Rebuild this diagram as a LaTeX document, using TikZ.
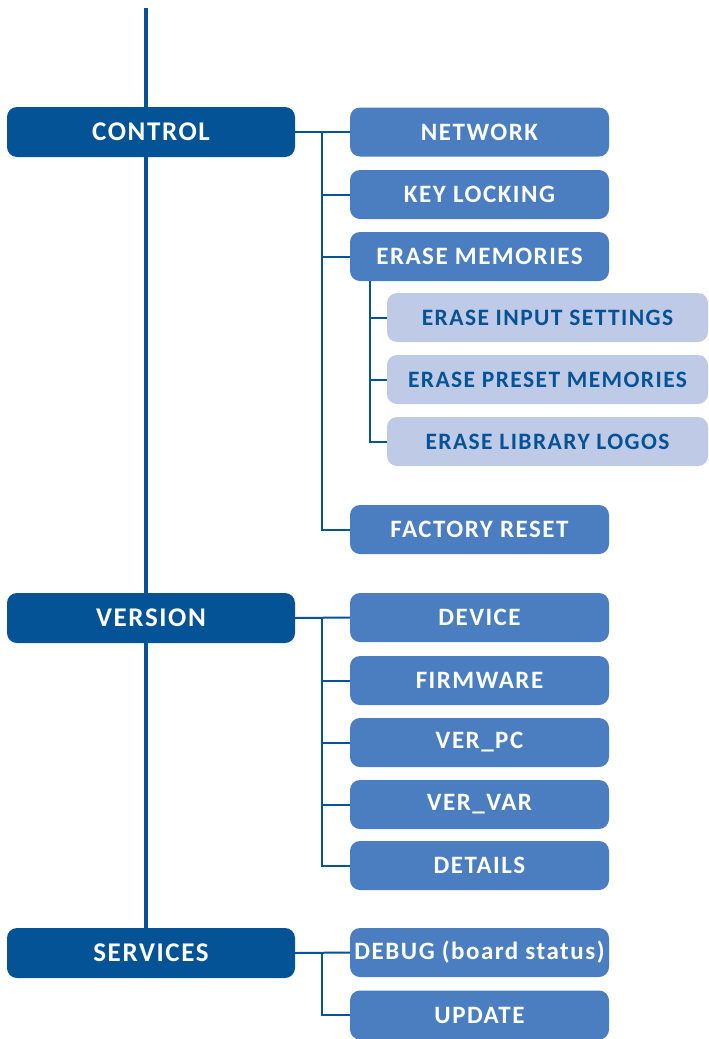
\documentclass[tikz,border=0pt]{standalone}
\usepackage{fontspec}
\setmainfont{Carlito}[LetterSpace=6]
\usepackage{tikz}

\definecolor{darkblue}{RGB}{4,83,151}
\definecolor{midblue}{RGB}{74,126,192}
\definecolor{paleblue}{RGB}{191,202,230}

\tikzset{
  menu/.style={rounded corners=10pt, fill=darkblue, text=white,
    minimum width=288pt, minimum height=50pt, inner sep=0pt,
    font=\fontsize{27}{30}\selectfont\bfseries},
  item/.style={rounded corners=10pt, fill=midblue, text=white,
    minimum width=259pt, minimum height=49pt, inner sep=0pt,
    font=\fontsize{25}{28}\selectfont\bfseries},
  subitem/.style={rounded corners=10pt, fill=paleblue, text=darkblue,
    minimum width=321pt, minimum height=49pt, inner sep=0pt,
    font=\fontsize{23.5}{26}\selectfont\bfseries},
  link/.style={draw=darkblue, line width=2pt}
}

\begin{document}
\begin{tikzpicture}[x=1pt,y=-1pt]
    \useasboundingbox (0,0) rectangle (709,1039);
    % Hauptlinie
    \coordinate (top) at (146,8);
    \node[menu] (services) at (151,953) {SERVICES};
    \draw[darkblue, line width=4pt] (top) -- (top |- services.north);
    % CONTROL
    \node[menu] (control) at (151,132) {CONTROL};
    \node[item] (network) at (479.5,132) {NETWORK};
    \node[item] (keylock) at (479.5,194.5) {KEY LOCKING};
    \node[item] (erase) at (479.5,256.5) {ERASE MEMORIES};
    \node[subitem] (einput) at (547.5,317.5) {ERASE INPUT SETTINGS};
    \node[subitem] (epreset) at (547.5,379.5) {ERASE PRESET MEMORIES};
    \node[subitem] (elogos) at (547.5,441.5) {ERASE LIBRARY LOGOS};
    \node[item] (reset) at (479.5,529.5) {FACTORY RESET};
    \coordinate (cbus) at (322,132);
    \draw[link] (control.east) -- (network.west);
    \draw[link] (cbus) |- (keylock.west);
    \draw[link] (cbus) |- (erase.west);
    \draw[link] (cbus) |- (reset.west);
    \coordinate (ebus) at (370,281);
    \draw[link] (ebus) |- (einput.west);
    \draw[link] (ebus) |- (epreset.west);
    \draw[link] (ebus) |- (elogos.west);
    % VERSION
    \node[menu] (version) at (151,618) {VERSION};
    \node[item] (device) at (479.5,617.5) {DEVICE};
    \node[item] (firmware) at (479.5,680.5) {FIRMWARE};
    \node[item] (verpc) at (479.5,742.5) {VER\_PC};
    \node[item] (vervar) at (479.5,804.5) {VER\_VAR};
    \node[item] (details) at (479.5,865.5) {DETAILS};
    \coordinate (vbus) at (322,618);
    \draw[link] (version.east) -- (device.west);
    \draw[link] (vbus) |- (firmware.west);
    \draw[link] (vbus) |- (verpc.west);
    \draw[link] (vbus) |- (vervar.west);
    \draw[link] (vbus) |- (details.west);
    % SERVICES
    \node[item] (debug) at (479.5,952.5) {DEBUG (board status)};
    \node[item] (update) at (479.5,1015) {UPDATE};
    \coordinate (sbus) at (322,953);
    \draw[link] (services.east) -- (debug.west);
    \draw[link] (sbus) |- (update.west);
\end{tikzpicture}
\end{document}
